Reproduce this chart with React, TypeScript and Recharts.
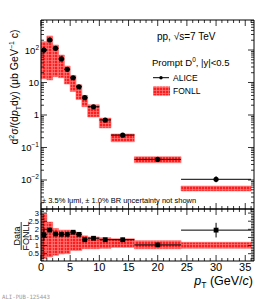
import React from "react";
import {
  ComposedChart,
  XAxis,
  YAxis,
  Scatter,
  ErrorBar,
  ReferenceArea,
} from "recharts";

const FONT = '"Liberation Sans", Arial, sans-serif';

// pT bins (GeV/c)
const binLow = [0, 1, 2, 3, 4, 5, 6, 7, 8, 10, 12, 16, 24];
const binHigh = [1, 2, 3, 4, 5, 6, 7, 8, 10, 12, 16, 24, 36];
const ptCenter = [0.5, 1.5, 2.5, 3.5, 4.5, 5.5, 6.5, 7.5, 9, 11, 14, 20, 30];

// ALICE prompt D0 cross section (ub GeV^-1 c)
const aliceXsec = [100, 203, 113, 53, 25.5, 14, 7.4, 3.4, 1.79, 0.7, 0.24, 0.043, 0.0105];
const aliceErrLo = [20, 20, 9, 4, 2, 1, 0.5, 0.25, 0.12, 0.05, 0.017, 0.004, 0.002];
const aliceErrHi = [24, 22, 10, 4, 2, 1, 0.5, 0.25, 0.12, 0.05, 0.017, 0.004, 0.0025];

// FONLL band
const fonllLo = [13, 12, 15, 14, 9, 5.3, 3, 1.8, 0.87, 0.4, 0.15, 0.034, 0.0046];
const fonllHi = [180, 270, 142, 70, 32, 16.5, 8.5, 4, 2.05, 0.8, 0.26, 0.052, 0.0065];

// Data / FONLL
const ratioVal = [1.67, 1.95, 1.71, 1.69, 1.69, 1.82, 1.69, 1.36, 1.45, 1.36, 1.36, 1.04, 1.95];
const ratioErr = [0.37, 0.12, 0.08, 0.08, 0.08, 0.08, 0.1, 0.08, 0.08, 0.08, 0.12, 0.1, 0.45];
const ratioBandLo = [0.2, 0.3, 0.4, 0.48, 0.5, 0.7, 0.7, 0.8, 0.8, 0.83, 0.89, 0.8, 0.83];
const ratioBandHi = [2.95, 2.45, 2.05, 1.95, 1.95, 1.9, 1.8, 1.6, 1.53, 1.48, 1.42, 1.3, 1.2];

// axes
const X_MAX = 36.5;
const xTicks = Array.from({ length: 37 }, (_, i) => i);
const LOG_MIN = 0.00128;
const LOG_MAX = 838;
const logTicks = [-3, -2, -1, 0, 1, 2]
  .flatMap((e) => [1, 2, 3, 4, 5, 6, 7, 8, 9].map((m) => m * Math.pow(10, e)))
  .filter((v) => v > LOG_MIN && v < LOG_MAX);
const ratioTicks = Array.from({ length: 32 }, (_, i) => Math.round(i + 1) / 10);

const topPoints = ptCenter.map((x, i) => ({
  x,
  y: aliceXsec[i],
  ex: (binHigh[i] - binLow[i]) / 2,
  ey: [aliceErrLo[i], aliceErrHi[i]],
}));

const ratioPoints = ptCenter.map((x, i) => ({
  x,
  y: ratioVal[i],
  ex: (binHigh[i] - binLow[i]) / 2,
  ey: ratioErr[i],
}));

const isDecade = (v: number) =>
  Math.abs(Math.log10(v) - Math.round(Math.log10(v))) < 1e-6;

function logLabel(v: number) {
  const e = Math.round(Math.log10(v));
  if (e === 0) return "1";
  if (e === 1) return "10";
  return (
    <>
      10
      <tspan dy={-4} fontSize={6.5}>
        {e < 0 ? `\u2212${-e}` : e}
      </tspan>
    </>
  );
}

const LogTick = (side: "left" | "right") => (p: any) => {
  const v = p.payload.value;
  const major = isDecade(v);
  const len = major ? 6 : 3;
  const dir = side === "left" ? 1 : -1;
  return (
    <g>
      <line x1={p.x} x2={p.x + dir * len} y1={p.y} y2={p.y} stroke="#000" strokeWidth={0.8} />
      {side === "left" && major && (
        <text x={p.x - 2} y={p.y + 3.5} textAnchor="end" fontSize={9.5} fontFamily={FONT} fill="#000">
          {logLabel(v)}
        </text>
      )}
    </g>
  );
};

const RatioTick = (side: "left" | "right") => (p: any) => {
  const v = p.payload.value;
  const major = Math.abs(v * 2 - Math.round(v * 2)) < 1e-6;
  const len = major ? 6 : 3;
  const dir = side === "left" ? 1 : -1;
  return (
    <g>
      <line x1={p.x} x2={p.x + dir * len} y1={p.y} y2={p.y} stroke="#000" strokeWidth={0.8} />
      {side === "left" && major && (
        <text x={p.x - 2} y={p.y + 2.7} textAnchor="end" fontSize={7.5} fontFamily={FONT} fill="#000">
          {v}
        </text>
      )}
    </g>
  );
};

const XTick = (side: "top" | "bottom", labels: boolean) => (p: any) => {
  const v = p.payload.value;
  const major = v % 5 === 0;
  const len = major ? 6 : 3;
  const dir = side === "top" ? 1 : -1;
  return (
    <g>
      <line x1={p.x} x2={p.x} y1={p.y} y2={p.y + dir * len} stroke="#000" strokeWidth={0.8} />
      {labels && major && (
        <text x={p.x} y={p.y + 10} textAnchor="middle" fontSize={11} fontFamily={FONT} fill="#000">
          {v}
        </text>
      )}
    </g>
  );
};

const dot = (p: any) => <circle cx={p.cx} cy={p.cy} r={2.6} fill="#000" />;
const square = (p: any) => (
  <rect x={p.cx - 2.4} y={p.cy - 2.4} width={4.8} height={4.8} fill="#000" />
);

const axisCommon = {
  tickSize: 0,
  tickMargin: 0,
  tickLine: false,
  interval: 0 as const,
  allowDataOverflow: true,
  axisLine: { stroke: "#000", strokeWidth: 1 },
};

export default function App() {
  return (
    <div
      style={{
        position: "absolute",
        left: 0,
        top: 0,
        width: 273,
        height: 299,
        background: "#fff",
        overflow: "hidden",
      }}
    >
      <svg width={0} height={0} style={{ position: "absolute" }}>
        <defs>
          <pattern id="fonllHatch" width={3} height={3} patternUnits="userSpaceOnUse">
            <rect width={3} height={3} fill="#ff1c1c" />
            <path d="M0 0.5H3M0.5 0V3" stroke="#ff8a8a" strokeWidth={0.6} />
          </pattern>
        </defs>
      </svg>

      {/* cross section panel */}
      <div style={{ position: "absolute", left: 0, top: 0 }}>
        <ComposedChart
          width={273}
          height={210}
          data={topPoints}
          margin={{ top: 10, right: 9, bottom: 0, left: 1 }}
        >
          <XAxis
            {...axisCommon}
            xAxisId="b"
            type="number"
            dataKey="x"
            domain={[0, X_MAX]}
            ticks={xTicks}
            orientation="bottom"
            height={1}
            tick={XTick("bottom", false)}
          />
          <XAxis
            {...axisCommon}
            xAxisId="t"
            type="number"
            dataKey="x"
            domain={[0, X_MAX]}
            ticks={xTicks}
            orientation="top"
            height={10}
            tick={XTick("top", false)}
          />
          <YAxis
            {...axisCommon}
            yAxisId="l"
            type="number"
            scale="log"
            domain={[LOG_MIN, LOG_MAX]}
            ticks={logTicks}
            width={40}
            tick={LogTick("left")}
          />
          <YAxis
            {...axisCommon}
            yAxisId="r"
            type="number"
            scale="log"
            orientation="right"
            domain={[LOG_MIN, LOG_MAX]}
            ticks={logTicks}
            width={10}
            tick={LogTick("right")}
          />
          {binLow.map((lo, i) => (
            <ReferenceArea
              key={`f${i}`}
              xAxisId="b"
              yAxisId="l"
              x1={lo}
              x2={binHigh[i]}
              y1={fonllLo[i]}
              y2={fonllHi[i]}
              fill="url(#fonllHatch)"
              fillOpacity={1}
              stroke="#ff6a6a"
              strokeWidth={0.6}
            />
          ))}
          <Scatter
            xAxisId="b"
            yAxisId="l"
            dataKey="y"
            shape={dot}
            isAnimationActive={false}
          >
            <ErrorBar dataKey="ex" direction="x" width={0} stroke="#000" strokeWidth={1} />
            <ErrorBar dataKey="ey" direction="y" width={0} stroke="#000" strokeWidth={1} />
          </Scatter>
        </ComposedChart>
      </div>

      {/* ratio panel */}
      <div style={{ position: "absolute", left: 0, top: 199 }}>
        <ComposedChart
          width={273}
          height={100}
          data={ratioPoints}
          margin={{ top: 0, right: 9, bottom: 18, left: 1 }}
        >
          <XAxis
            {...axisCommon}
            xAxisId="b"
            type="number"
            dataKey="x"
            domain={[0, X_MAX]}
            ticks={xTicks}
            orientation="bottom"
            height={20}
            tick={XTick("bottom", true)}
          />
          <XAxis
            {...axisCommon}
            xAxisId="t"
            type="number"
            dataKey="x"
            domain={[0, X_MAX]}
            ticks={xTicks}
            orientation="top"
            height={10}
            tick={XTick("top", false)}
          />
          <YAxis
            {...axisCommon}
            yAxisId="l"
            type="number"
            domain={[0.05, 3.25]}
            ticks={ratioTicks}
            width={40}
            tick={RatioTick("left")}
          />
          <YAxis
            {...axisCommon}
            yAxisId="r"
            type="number"
            orientation="right"
            domain={[0.05, 3.25]}
            ticks={ratioTicks}
            width={10}
            tick={RatioTick("right")}
          />
          {binLow.map((lo, i) => (
            <ReferenceArea
              key={`r${i}`}
              xAxisId="b"
              yAxisId="l"
              x1={lo}
              x2={binHigh[i]}
              y1={ratioBandLo[i]}
              y2={ratioBandHi[i]}
              fill="url(#fonllHatch)"
              fillOpacity={1}
              stroke="#ff6a6a"
              strokeWidth={0.6}
            />
          ))}
          <Scatter
            xAxisId="b"
            yAxisId="l"
            dataKey="y"
            shape={square}
            isAnimationActive={false}
          >
            <ErrorBar dataKey="ex" direction="x" width={0} stroke="#000" strokeWidth={1} />
            <ErrorBar dataKey="ey" direction="y" width={0} stroke="#000" strokeWidth={1} />
          </Scatter>
        </ComposedChart>
      </div>

      {/* titles, legend, annotations */}
      <svg
        width={273}
        height={299}
        style={{ position: "absolute", left: 0, top: 0, pointerEvents: "none" }}
        fontFamily={FONT}
      >
        <text transform="translate(18,87) rotate(-90)" textAnchor="middle" fontSize={10.5}>
          d<tspan dy={-4} fontSize={7}>2</tspan>
          <tspan dy={4}>σ/(d</tspan>
          <tspan fontStyle="italic">p</tspan>
          <tspan dy={2.5} fontSize={7}>T</tspan>
          <tspan dy={-2.5}>dy) (μb GeV</tspan>
          <tspan dy={-4} fontSize={7}>−1</tspan>
          <tspan dy={4}> c)</tspan>
        </text>

        <text transform="translate(19.5,236) rotate(-90)" textAnchor="middle" fontSize={9}>
          Data
        </text>
        <line x1={21.2} x2={21.2} y1={222} y2={250} stroke="#000" strokeWidth={0.8} />
        <text transform="translate(28.5,236) rotate(-90)" textAnchor="middle" fontSize={9}>
          FONLL
        </text>

        <text x={157} y={40} fontSize={10}>
          pp, √s=7 TeV
        </text>
        <text x={152} y={66} fontSize={9.5}>
          Prompt D<tspan dy={-4} fontSize={6.5}>0</tspan>
          <tspan dy={4}>, |y|&lt;0.5</tspan>
        </text>
        <line x1={153} x2={169} y1={77.7} y2={77.7} stroke="#000" strokeWidth={1} />
        <circle cx={161} cy={77.7} r={1.7} fill="#000" />
        <text x={173} y={80.8} fontSize={8.5}>
          ALICE
        </text>
        <rect x={153} y={86.5} width={17} height={9} fill="url(#fonllHatch)" />
        <text x={173} y={94.3} fontSize={8.5}>
          FONLL
        </text>

        <text x={42} y={202.5} fontSize={7.5}>
          ± 3.5% lumi, ± 1.0% BR uncertainty not shown
        </text>

        <text x={253} y={285} textAnchor="end" fontSize={12.5}>
          <tspan fontStyle="italic">p</tspan>
          <tspan dy={3} fontSize={8.5}>T</tspan>
          <tspan dy={-3}> (GeV/</tspan>
          <tspan fontStyle="italic">c</tspan>)
        </text>

        <text x={2} y={298.5} fontSize={5.7} fill="#9a9a9a" fontFamily='"DejaVu Sans Mono", monospace'>
          ALI-PUB-125443
        </text>
      </svg>
    </div>
  );
}
